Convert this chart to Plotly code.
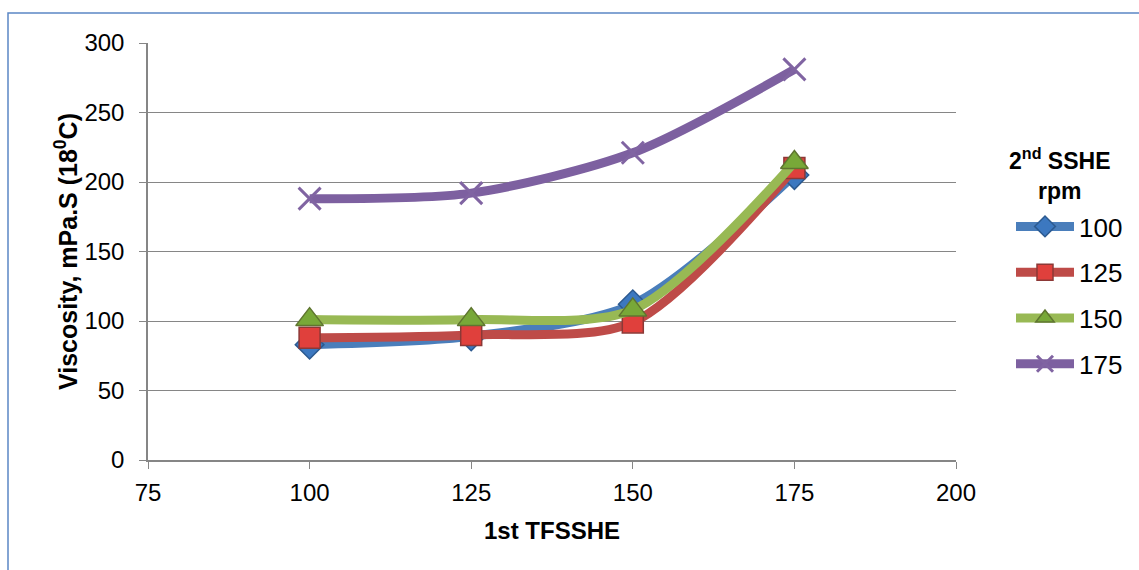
import plotly.graph_objects as go

x_vals = [100, 125, 150, 175]
series_names = ["100", "125", "150", "175"]
visc_100 = [83, 89, 112, 205]
visc_125 = [88, 90, 99, 210]
visc_150 = [101, 101, 108, 214]
visc_175 = [188, 192, 221, 281]

line_colors = ["#4A7EBB", "#BE4B48", "#98B954", "#7D60A0"]
marker_fill = ["#3C78C0", "#E0403C", "#78A838", "#8064A2"]
marker_line = ["#2C5A90", "#8C3836", "#5F7530", "#6A4F8A"]
symbols = ["diamond", "square", "triangle-up", "x-thin"]
sizes = [22, 21, 24, 22]

W, H = 1139, 570
L, R, T, B = 148, 956, 43, 460

fig = go.Figure()
for i, (name, ys) in enumerate(zip(series_names, [visc_100, visc_125, visc_150, visc_175])):
    mk = dict(symbol=symbols[i], size=sizes[i], color=marker_fill[i],
              line=dict(color=marker_line[i] if i < 3 else marker_fill[i], width=1.5 if i < 3 else 3))
    fig.add_trace(go.Scatter(
        x=x_vals, y=ys, name=name, mode="lines+markers",
        line=dict(color=line_colors[i], width=9, shape="spline", smoothing=0.8),
        marker=mk, legendgroup=name,
    ))

def px_x(p):
    return (p - L) / (R - L)

def px_y(p):
    return (B - p) / (B - T)

fig.add_shape(type="rect", xref="paper", yref="paper",
              x0=px_x(8), x1=px_x(1150), y0=px_y(13), y1=px_y(580),
              line=dict(color="#5B87C5", width=1.5), layer="below")

fig.add_annotation(xref="paper", yref="paper", x=px_x(1060), y=px_y(174),
                   xanchor="center", yanchor="middle", align="center", showarrow=False,
                   text="<b>2<sup>nd</sup> SSHE<br>rpm</b>", font=dict(size=23))

fig.update_layout(
    width=W, height=H,
    margin=dict(l=L, r=W - R, t=T, b=H - B, autoexpand=False),
    paper_bgcolor="white", plot_bgcolor="white",
    font=dict(family="Liberation Sans, Arial", size=24, color="black"),
    xaxis=dict(range=[75, 200], tickvals=[75, 100, 125, 150, 175, 200],
               showgrid=False, showline=True, linecolor="#868686", linewidth=1.5,
               ticks="outside", ticklen=7, tickcolor="#868686", zeroline=False,
               tickfont=dict(size=24), ticklabelstandoff=3,
               title=dict(text="<b>1st TFSSHE</b>", font=dict(size=24), standoff=18)),
    yaxis=dict(range=[0, 300], tickvals=[0, 50, 100, 150, 200, 250, 300],
               showgrid=True, gridcolor="#868686", gridwidth=1.2,
               showline=True, linecolor="#868686", linewidth=1.5,
               ticks="outside", ticklen=7, tickcolor="#868686", zeroline=False,
               tickfont=dict(size=24), ticklabelstandoff=10,
               title=dict(text="<b>Viscosity, mPa.S (18<sup>0</sup>C)</b>", font=dict(size=25), standoff=0)),
    legend=dict(x=px_x(1011), y=px_y(203), xanchor="left", yanchor="top",
                font=dict(size=26), tracegroupgap=9, itemwidth=58,
                bgcolor="rgba(0,0,0,0)"),
    showlegend=True,
)

fig.write_html("out.html")
